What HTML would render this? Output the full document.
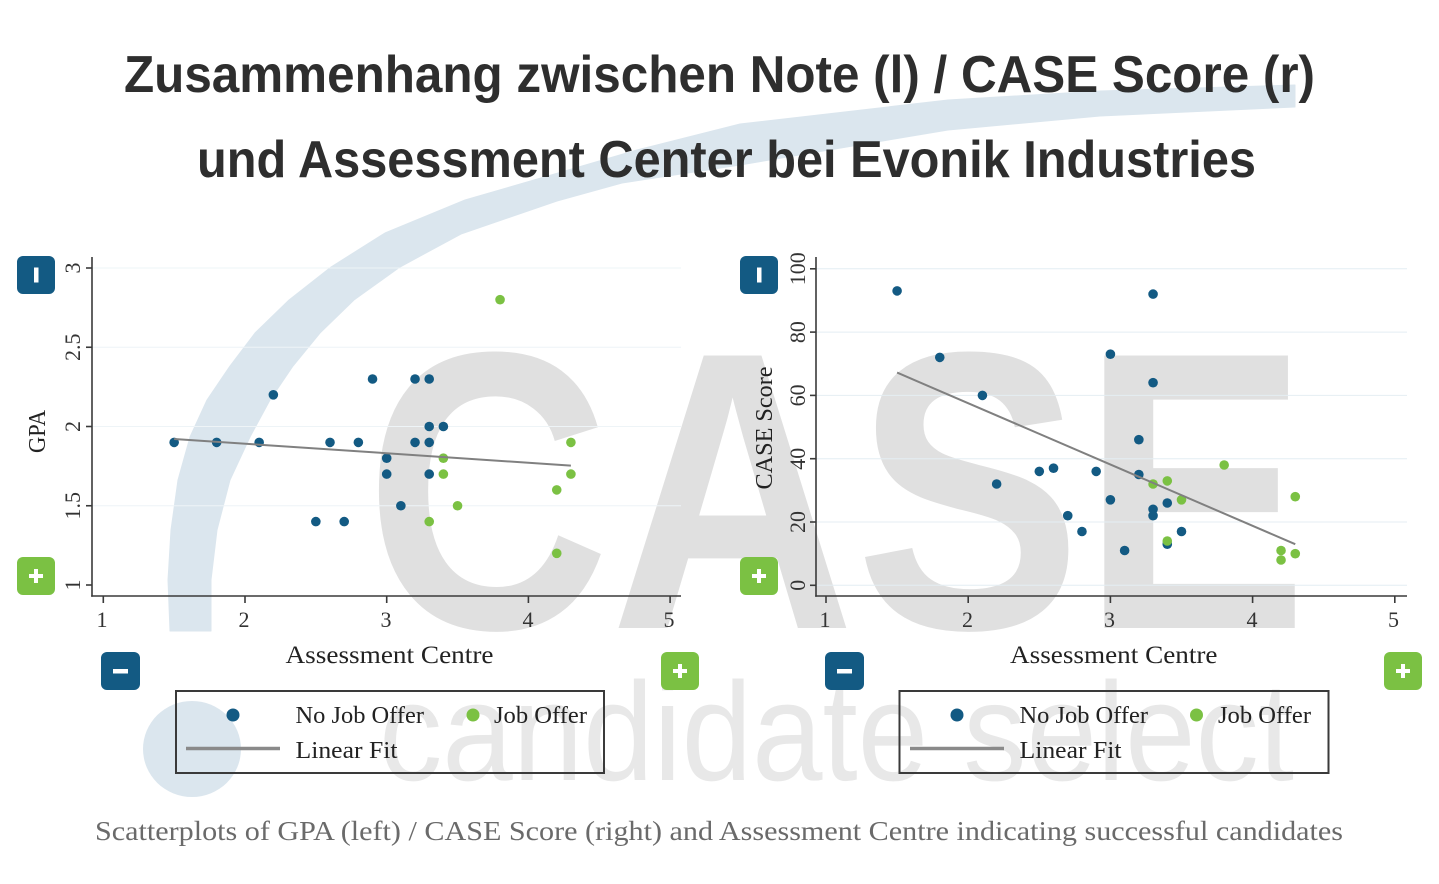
<!DOCTYPE html>
<html>
<head>
<meta charset="utf-8">
<style>
html,body{margin:0;padding:0;background:#fff;}
svg{display:block;}
.serif{font-family:"Liberation Serif",serif;}
.sans{font-family:"Liberation Sans",sans-serif;}
</style>
</head>
<body>
<svg width="1439" height="884" viewBox="0 0 1439 884" xmlns="http://www.w3.org/2000/svg">
<rect width="1439" height="884" fill="#ffffff"/>

<!-- watermark arc & circle -->
<polygon fill="#dbe6ee" stroke="#dbe6ee" stroke-width="1" stroke-linejoin="round" points="170,631 168,580 171,530 178,480 190,437 207,400 230,366 255,333 289,300 331,267 385,233 465,200 534,180 637,150 740,124 948,100 1100,91 1295,85 1295,107 1100,116 948,130 740,165 622,183 557,201 461,234 400,267 354,300 320,333 293,366 270,400 250,437 230,480 217,530 211,580 211,631"/>
<ellipse cx="192" cy="749" rx="49" ry="48" fill="#dbe6ee"/>

<!-- watermark CASE -->
<text class="sans" x="365" y="628" font-size="396" font-weight="bold" fill="#e0e0e0" textLength="943" lengthAdjust="spacingAndGlyphs">CASE</text>
<text class="sans" x="379" y="780" font-size="140" fill="#e8e8e8" textLength="915" lengthAdjust="spacingAndGlyphs">candidate select</text>

<!-- Title -->
<text class="sans" x="124" y="92" font-size="52" font-weight="bold" fill="#2e2e2e" textLength="1191" lengthAdjust="spacingAndGlyphs">Zusammenhang zwischen Note (l) / CASE Score (r)</text>
<text class="sans" x="197" y="177" font-size="52" font-weight="bold" fill="#2e2e2e" textLength="1059" lengthAdjust="spacingAndGlyphs">und Assessment Center bei Evonik Industries</text>

<!-- ============ LEFT PLOT ============ -->
<g stroke="#eef4f7" stroke-width="1">
  <line x1="92" y1="268" x2="681" y2="268"/>
  <line x1="92" y1="347.25" x2="681" y2="347.25"/>
  <line x1="92" y1="426.5" x2="681" y2="426.5"/>
  <line x1="92" y1="505.75" x2="681" y2="505.75"/>
</g>
<g stroke="#3a3a3a" stroke-width="1.6" fill="none">
  <line x1="92" y1="257" x2="92" y2="596.8"/>
  <line x1="91.2" y1="596" x2="681" y2="596"/>
  <line x1="86" y1="268" x2="92" y2="268"/>
  <line x1="86" y1="347.25" x2="92" y2="347.25"/>
  <line x1="86" y1="426.5" x2="92" y2="426.5"/>
  <line x1="86" y1="505.75" x2="92" y2="505.75"/>
  <line x1="86" y1="585" x2="92" y2="585"/>
  <line x1="103.3" y1="596" x2="103.3" y2="603"/>
  <line x1="245" y1="596" x2="245" y2="603"/>
  <line x1="386.7" y1="596" x2="386.7" y2="603"/>
  <line x1="528.4" y1="596" x2="528.4" y2="603"/>
  <line x1="670.1" y1="596" x2="670.1" y2="603"/>
</g>
<g class="serif" font-size="22" fill="#333" text-anchor="middle">
  <text x="102" y="627">1</text>
  <text x="244" y="627">2</text>
  <text x="386" y="627">3</text>
  <text x="528" y="627">4</text>
  <text x="669" y="627">5</text>
  <text transform="translate(80,268) rotate(-90)">3</text>
  <text transform="translate(80,347.25) rotate(-90)">2.5</text>
  <text transform="translate(80,426.5) rotate(-90)">2</text>
  <text transform="translate(80,505.75) rotate(-90)">1.5</text>
  <text transform="translate(80,585) rotate(-90)">1</text>
</g>
<text class="serif" transform="translate(45,431.5) rotate(-90)" font-size="24" fill="#222" text-anchor="middle" textLength="43" lengthAdjust="spacingAndGlyphs">GPA</text>
<text class="serif" x="389.5" y="663" font-size="25" fill="#222" text-anchor="middle" textLength="208" lengthAdjust="spacingAndGlyphs">Assessment Centre</text>

<!-- left points -->
<g fill="#135a83">
  <circle cx="174.15" cy="442.4" r="4.8"/>
  <circle cx="216.66" cy="442.4" r="4.8"/>
  <circle cx="259.17" cy="442.4" r="4.8"/>
  <circle cx="273.34" cy="394.8" r="4.8"/>
  <circle cx="315.85" cy="521.6" r="4.8"/>
  <circle cx="330.02" cy="442.4" r="4.8"/>
  <circle cx="344.19" cy="521.6" r="4.8"/>
  <circle cx="358.36" cy="442.4" r="4.8"/>
  <circle cx="372.53" cy="379.0" r="4.8"/>
  <circle cx="386.7" cy="458.2" r="4.8"/>
  <circle cx="386.7" cy="474.1" r="4.8"/>
  <circle cx="400.87" cy="505.75" r="4.8"/>
  <circle cx="415.04" cy="379.0" r="4.8"/>
  <circle cx="415.04" cy="442.4" r="4.8"/>
  <circle cx="429.21" cy="379.0" r="4.8"/>
  <circle cx="429.21" cy="426.5" r="4.8"/>
  <circle cx="429.21" cy="442.4" r="4.8"/>
  <circle cx="429.21" cy="474.1" r="4.8"/>
  <circle cx="443.38" cy="426.5" r="4.8"/>
</g>
<g fill="#7bc143">
  <circle cx="429.21" cy="521.6" r="4.8"/>
  <circle cx="443.38" cy="458.2" r="4.8"/>
  <circle cx="443.38" cy="474.1" r="4.8"/>
  <circle cx="457.55" cy="505.75" r="4.8"/>
  <circle cx="500.06" cy="299.7" r="4.8"/>
  <circle cx="556.74" cy="489.9" r="4.8"/>
  <circle cx="556.74" cy="553.3" r="4.8"/>
  <circle cx="570.91" cy="442.4" r="4.8"/>
  <circle cx="570.91" cy="474.1" r="4.8"/>
</g>
<line x1="174.15" y1="439" x2="570.91" y2="465.6" stroke="#808080" stroke-width="2"/>

<!-- left buttons -->
<rect x="17" y="256" width="38" height="38" rx="6" fill="#135a83"/>
<rect x="34" y="267.5" width="4.5" height="15" fill="#fff"/>
<rect x="17" y="557" width="38" height="38" rx="6" fill="#7bc143"/>
<rect x="29" y="574" width="14" height="4" fill="#fff"/>
<rect x="34" y="569" width="4" height="14" fill="#fff"/>
<rect x="101" y="652" width="39" height="38" rx="6" fill="#135a83"/>
<rect x="113" y="669" width="15" height="4.5" fill="#fff"/>
<rect x="661" y="652" width="38" height="38" rx="6" fill="#7bc143"/>
<rect x="673" y="669" width="14" height="4" fill="#fff"/>
<rect x="678" y="664" width="4" height="14" fill="#fff"/>

<!-- left legend -->
<rect x="176" y="691" width="428" height="82" fill="none" stroke="#3a3a3a" stroke-width="2"/>
<circle cx="233" cy="715" r="6.5" fill="#135a83"/>
<circle cx="473" cy="715" r="6.5" fill="#7bc143"/>
<line x1="186" y1="748.5" x2="280" y2="748.5" stroke="#8a8a8a" stroke-width="3.5"/>
<g class="serif" font-size="24.5" fill="#222">
  <text x="295.5" y="723" textLength="128.5" lengthAdjust="spacingAndGlyphs">No Job Offer</text>
  <text x="494" y="723" textLength="93" lengthAdjust="spacingAndGlyphs">Job Offer</text>
  <text x="295.5" y="758" textLength="102" lengthAdjust="spacingAndGlyphs">Linear Fit</text>
</g>

<!-- ============ RIGHT PLOT ============ -->
<g stroke="#e4eef3" stroke-width="1">
  <line x1="816" y1="268.8" x2="1407" y2="268.8"/>
  <line x1="816" y1="332.1" x2="1407" y2="332.1"/>
  <line x1="816" y1="395.4" x2="1407" y2="395.4"/>
  <line x1="816" y1="458.7" x2="1407" y2="458.7"/>
  <line x1="816" y1="522" x2="1407" y2="522"/>
  <line x1="816" y1="585.3" x2="1407" y2="585.3"/>
</g>
<g stroke="#3a3a3a" stroke-width="1.6" fill="none">
  <line x1="816" y1="257" x2="816" y2="596.8"/>
  <line x1="815.2" y1="596" x2="1407" y2="596"/>
  <line x1="810" y1="268.8" x2="816" y2="268.8"/>
  <line x1="810" y1="332.1" x2="816" y2="332.1"/>
  <line x1="810" y1="395.4" x2="816" y2="395.4"/>
  <line x1="810" y1="458.7" x2="816" y2="458.7"/>
  <line x1="810" y1="522" x2="816" y2="522"/>
  <line x1="810" y1="585.3" x2="816" y2="585.3"/>
  <line x1="826" y1="596" x2="826" y2="603"/>
  <line x1="968.2" y1="596" x2="968.2" y2="603"/>
  <line x1="1110.4" y1="596" x2="1110.4" y2="603"/>
  <line x1="1252.6" y1="596" x2="1252.6" y2="603"/>
  <line x1="1394.8" y1="596" x2="1394.8" y2="603"/>
</g>
<g class="serif" font-size="22" fill="#333" text-anchor="middle">
  <text x="825" y="627">1</text>
  <text x="967.5" y="627">2</text>
  <text x="1109.5" y="627">3</text>
  <text x="1252" y="627">4</text>
  <text x="1393.5" y="627">5</text>
  <text transform="translate(805,268.8) rotate(-90)">100</text>
  <text transform="translate(805,332.1) rotate(-90)">80</text>
  <text transform="translate(805,395.4) rotate(-90)">60</text>
  <text transform="translate(805,458.7) rotate(-90)">40</text>
  <text transform="translate(805,522) rotate(-90)">20</text>
  <text transform="translate(805,585.3) rotate(-90)">0</text>
</g>
<text class="serif" transform="translate(772,428) rotate(-90)" font-size="24" fill="#222" text-anchor="middle" textLength="123" lengthAdjust="spacingAndGlyphs">CASE Score</text>
<text class="serif" x="1113.75" y="663" font-size="25" fill="#222" text-anchor="middle" textLength="207.5" lengthAdjust="spacingAndGlyphs">Assessment Centre</text>

<!-- right points -->
<g fill="#135a83">
  <circle cx="897.1" cy="290.9" r="4.8"/>
  <circle cx="939.76" cy="357.4" r="4.8"/>
  <circle cx="982.42" cy="395.4" r="4.8"/>
  <circle cx="996.64" cy="484.0" r="4.8"/>
  <circle cx="1039.3" cy="471.4" r="4.8"/>
  <circle cx="1053.52" cy="468.2" r="4.8"/>
  <circle cx="1067.74" cy="515.7" r="4.8"/>
  <circle cx="1081.96" cy="531.5" r="4.8"/>
  <circle cx="1096.18" cy="471.4" r="4.8"/>
  <circle cx="1110.4" cy="354.2" r="4.8"/>
  <circle cx="1110.4" cy="499.8" r="4.8"/>
  <circle cx="1124.62" cy="550.5" r="4.8"/>
  <circle cx="1138.84" cy="439.7" r="4.8"/>
  <circle cx="1138.84" cy="474.5" r="4.8"/>
  <circle cx="1153.06" cy="294.1" r="4.8"/>
  <circle cx="1153.06" cy="382.7" r="4.8"/>
  <circle cx="1153.06" cy="509.3" r="4.8"/>
  <circle cx="1153.06" cy="515.7" r="4.8"/>
  <circle cx="1167.28" cy="503.0" r="4.8"/>
  <circle cx="1167.28" cy="544.2" r="4.8"/>
  <circle cx="1181.5" cy="531.5" r="4.8"/>
</g>
<g fill="#7bc143">
  <circle cx="1153.06" cy="484.0" r="4.8"/>
  <circle cx="1167.28" cy="480.9" r="4.8"/>
  <circle cx="1167.28" cy="541.0" r="4.8"/>
  <circle cx="1181.5" cy="499.8" r="4.8"/>
  <circle cx="1224.16" cy="465.0" r="4.8"/>
  <circle cx="1281.04" cy="550.5" r="4.8"/>
  <circle cx="1281.04" cy="560.0" r="4.8"/>
  <circle cx="1295.26" cy="496.7" r="4.8"/>
  <circle cx="1295.26" cy="553.7" r="4.8"/>
</g>
<line x1="897.1" y1="372.6" x2="1295.26" y2="544.2" stroke="#808080" stroke-width="2"/>

<!-- right buttons -->
<rect x="740" y="256" width="38" height="38" rx="6" fill="#135a83"/>
<rect x="757" y="267.5" width="4.5" height="15" fill="#fff"/>
<rect x="740" y="557" width="38" height="38" rx="6" fill="#7bc143"/>
<rect x="752" y="574" width="14" height="4" fill="#fff"/>
<rect x="757" y="569" width="4" height="14" fill="#fff"/>
<rect x="825" y="652" width="39" height="38" rx="6" fill="#135a83"/>
<rect x="837" y="669" width="15" height="4.5" fill="#fff"/>
<rect x="1384" y="652" width="38" height="38" rx="6" fill="#7bc143"/>
<rect x="1396" y="669" width="14" height="4" fill="#fff"/>
<rect x="1401" y="664" width="4" height="14" fill="#fff"/>

<!-- right legend -->
<rect x="899.5" y="691" width="429" height="82" fill="none" stroke="#3a3a3a" stroke-width="2"/>
<circle cx="957" cy="715" r="6.5" fill="#135a83"/>
<circle cx="1196.5" cy="715" r="6.5" fill="#7bc143"/>
<line x1="910" y1="748.5" x2="1004" y2="748.5" stroke="#8a8a8a" stroke-width="3.5"/>
<g class="serif" font-size="24.5" fill="#222">
  <text x="1019.5" y="723" textLength="128.5" lengthAdjust="spacingAndGlyphs">No Job Offer</text>
  <text x="1218" y="723" textLength="93" lengthAdjust="spacingAndGlyphs">Job Offer</text>
  <text x="1019.5" y="758" textLength="102" lengthAdjust="spacingAndGlyphs">Linear Fit</text>
</g>

<!-- caption -->
<text class="serif" x="95" y="840" font-size="27" fill="#6a6a6a" textLength="1248" lengthAdjust="spacingAndGlyphs">Scatterplots of GPA (left) / CASE Score (right) and Assessment Centre indicating successful candidates</text>
</svg>
</body>
</html>
